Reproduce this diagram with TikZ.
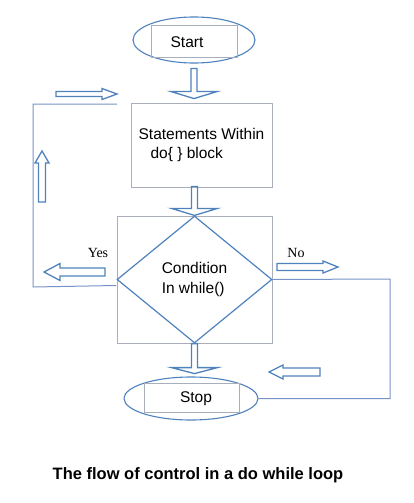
\documentclass[tikz,border=0pt]{standalone}
\usepackage{fontspec}
\setmainfont{Liberation Sans}
\newfontfamily\timesfont{Liberation Serif}
\usetikzlibrary{shapes.geometric}
\definecolor{shapeblue}{RGB}{79,129,189}
\definecolor{boxgray}{RGB}{168,174,188}
\definecolor{loopblue}{RGB}{118,148,198}

\begin{document}
\begin{tikzpicture}[x=1pt, y=-1pt,
  term/.style={ellipse, draw=shapeblue, line width=1.1pt, inner sep=0pt},
  innerbox/.style={rectangle, draw=boxgray, line width=0.8pt, inner sep=0pt},
  stmtbox/.style={rectangle, draw=boxgray, line width=1pt, inner sep=0pt,
    align=left, font=\fontsize{15.5}{19}\selectfont},
  decision/.style={diamond, draw=shapeblue, line width=1.2pt, inner sep=0pt,
    aspect=1.22, align=left, font=\fontsize{15.5}{20}\selectfont},
  txt/.style={inner sep=0pt, font=\fontsize{15.5}{19}\selectfont},
  answer/.style={inner sep=0pt, font=\timesfont\fontsize{14}{16}\selectfont},
  blockarr/.style={draw=shapeblue, line width=1.3pt, line join=miter},
  loopline/.style={draw=loopblue, line width=1pt}]
  \useasboundingbox (0,0) rectangle (413,503);

  % start and stop
  \node[term, minimum width=122pt, minimum height=46pt] (start) at (194,40) {};
  \node[innerbox, minimum width=86pt, minimum height=32pt] (startbox) at (194,41) {};
  \node[txt] (starttxt) at (187,42) {Start};

  \node[term, minimum width=134pt, minimum height=43pt] (stop) at (191,398.5) {};
  \node[innerbox, minimum width=95pt, minimum height=29pt] (stopbox) at (191.5,397.5) {};
  \node[txt] (stoptxt) at (196,399) {Stop};

  % body and test
  \node[stmtbox, minimum width=141pt, minimum height=84pt] (stmt) at (201.5,145)
    {Statements Within\\\hspace*{12pt}do\{ \} block};
  \node[innerbox, minimum width=155pt, minimum height=127pt] (condbox) at (194.5,279.5) {};
  \node[decision, minimum width=155pt, minimum height=127pt] (cond) at (194.5,279.5)
    {Condition\\In while()};

  % loop lines
  \coordinate (yescorner) at (33,287);
  \coordinate (loopin) at (117,104);
  \coordinate (nocorner) at (390,279);
  \draw[loopline] (cond.west) ++(0,6) -- (yescorner) |- (loopin);
  \draw[loopline] (cond.east) -- (nocorner) |- (stop.east);

  % block arrows down
  \draw[blockarr] (start.south) ++(-3,5) -- ++(0,23) -- ++(-20,0) -- ++(23,7)
    -- ++(23,-7) -- ++(-20,0) -- ++(0,-23) -- cycle;
  \draw[blockarr] (cond.north) ++(-3,-29) -- ++(0,22) -- ++(-20,0) -- ++(23,7)
    -- ++(23,-7) -- ++(-20,0) -- ++(0,-22) -- cycle;
  \draw[blockarr] (cond.south) ++(-3,0) -- ++(0,24) -- ++(-20,0) -- ++(23,6)
    -- ++(23,-6) -- ++(-20,0) -- ++(0,-24) -- cycle;

  % block arrows along the loops
  \draw[blockarr] (56,91.5) -- ++(46,0) -- ++(0,-3) -- ++(15,5.5) -- ++(-15,5.5)
    -- ++(0,-3) -- ++(-46,0) -- cycle;
  \draw[blockarr] (38.5,202) -- ++(0,-39) -- ++(-3.5,0) -- ++(7,-12) -- ++(7,12)
    -- ++(-3.5,0) -- ++(0,39) -- cycle;
  \draw[blockarr] (105,268) -- ++(-45,0) -- ++(0,-4.5) -- ++(-16,8.5) -- ++(16,8.5)
    -- ++(0,-4.5) -- ++(45,0) -- cycle;
  \draw[blockarr] (277,263.5) -- ++(46,0) -- ++(0,-2.5) -- ++(15,6) -- ++(-15,6)
    -- ++(0,-2.5) -- ++(-46,0) -- cycle;
  \draw[blockarr] (320,368) -- ++(-37,0) -- ++(0,-3) -- ++(-14,7) -- ++(14,7)
    -- ++(0,-3) -- ++(37,0) -- cycle;

  % labels
  \node[answer] (yes) at (98,253) {Yes};
  \node[answer] (no) at (296,253) {No};
  \node[inner sep=0pt, font=\bfseries\fontsize{16.5}{19}\selectfont] (caption)
    at (198,475) {The flow of control in a do while loop};
\end{tikzpicture}
\end{document}
